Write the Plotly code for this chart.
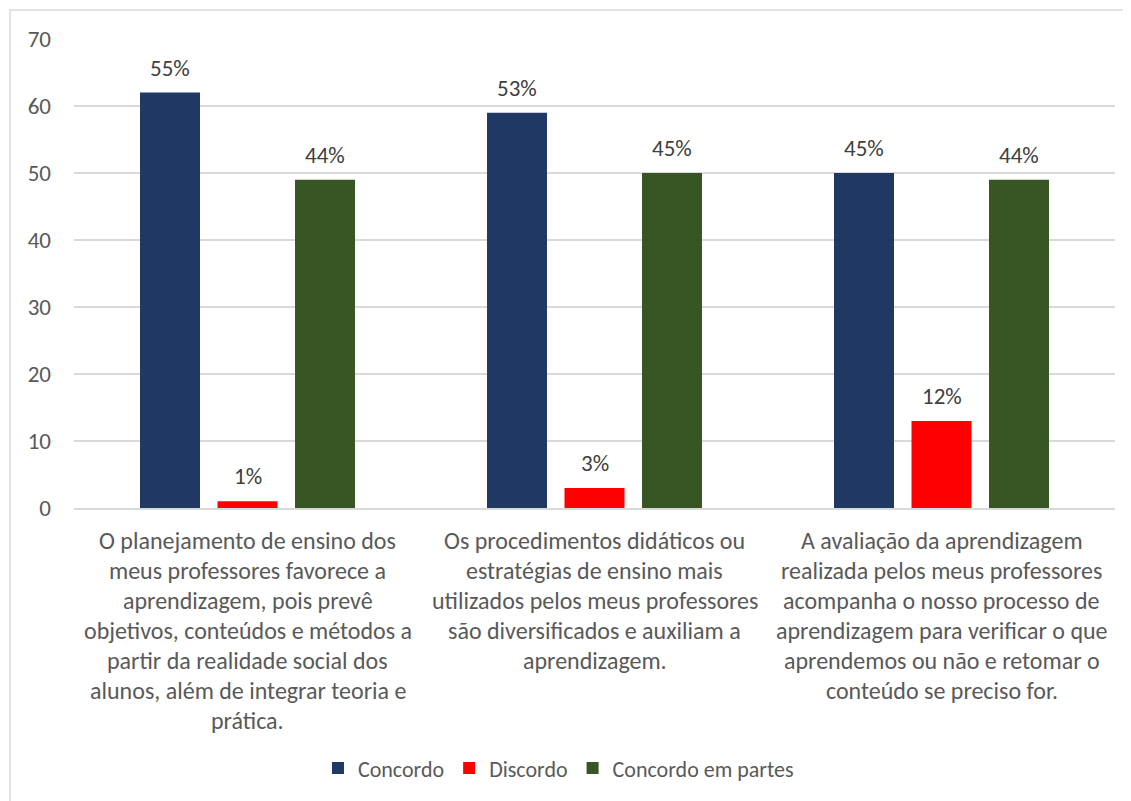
import plotly.graph_objects as go

categories = [
    "O planejamento de ensino dos|meus professores favorece a|aprendizagem, pois prevê|objetivos, conteúdos e métodos a|partir da realidade social dos|alunos, além de integrar teoria e|prática.",
    "Os procedimentos didáticos ou|estratégias de ensino mais|utilizados pelos meus professores|são diversificados e auxiliam a|aprendizagem.",
    "A avaliação da aprendizagem|realizada pelos meus professores|acompanha o nosso processo de|aprendizagem para verificar o que|aprendemos ou não e retomar o|conteúdo se preciso for.",
]
series_names = ["Concordo", "Discordo", "Concordo em partes"]
concordo = [62, 59, 50]
discordo = [1, 3, 13]
concordo_partes = [49, 50, 49]
concordo_pct = ["55%", "53%", "45%"]
discordo_pct = ["1%", "3%", "12%"]
concordo_partes_pct = ["44%", "45%", "44%"]
y_ticks = [0, 10, 20, 30, 40, 50, 60, 70]

colors = ["#1F3864", "#FF0000", "#375623"]
FONT = "Carlito, Lato, 'Liberation Sans', sans-serif"
TXT = "#595959"

values = [concordo, discordo, concordo_partes]
pcts = [concordo_pct, discordo_pct, concordo_partes_pct]

x_idx = list(range(len(categories)))
bargap = 0.33
bargroupgap = 0.226

fig = go.Figure()
for name, vals, col in zip(series_names, values, colors):
    fig.add_trace(go.Bar(x=x_idx, y=vals, name=name, marker=dict(color=col, line=dict(width=0))))

annotations = []
slot = (1 - bargap) / len(series_names)
for s, (vals, pc) in enumerate(zip(values, pcts)):
    off = (s - (len(series_names) - 1) / 2) * slot
    for i, (v, t) in enumerate(zip(vals, pc)):
        annotations.append(dict(x=i + off, y=v, xref="x", yref="y", text=t, showarrow=False,
                                yshift=25, yanchor="middle",
                                font=dict(family=FONT, size=23, color="#404040")))

for i, cat in enumerate(categories):
    for j, line in enumerate(cat.split("|")):
        annotations.append(dict(x=i, y=0, xref="x", yref="paper", text=line, showarrow=False,
                                yshift=-(32 + 30 * j), yanchor="middle",
                                font=dict(family=FONT, size=24, color=TXT)))

fig.update_layout(
    width=1131, height=801,
    margin=dict(l=66, r=24, t=31, b=301, autoexpand=False),
    paper_bgcolor="white", plot_bgcolor="white",
    barmode="group", bargap=bargap, bargroupgap=bargroupgap,
    font=dict(family=FONT, size=22, color=TXT),
    showlegend=True,
    legend=dict(orientation="h", x=0.4654, xanchor="center", y=-0.555, yanchor="middle",
                font=dict(family=FONT, size=22, color=TXT), itemwidth=30,
                traceorder="normal"),
    annotations=annotations,
    shapes=[dict(type="rect", xref="paper", yref="paper", x0=-0.0615, x1=1.2, y0=-1.0, y1=1.0618,
                 line=dict(color="#D9D9D9", width=1.5), fillcolor="rgba(0,0,0,0)", layer="below")],
)
fig.update_xaxes(range=[-0.5, 2.5], showticklabels=False, showgrid=False, zeroline=False,
                 showline=True, linecolor="#D9D9D9", linewidth=1.5, ticks="")
fig.update_yaxes(range=[0, 70], tickvals=y_ticks, showgrid=True, gridcolor="#D9D9D9", gridwidth=1.5,
                 zeroline=False, showline=False, ticklabelstandoff=22,
                 tickfont=dict(family=FONT, size=23, color=TXT))

fig.write_html("out.html")
